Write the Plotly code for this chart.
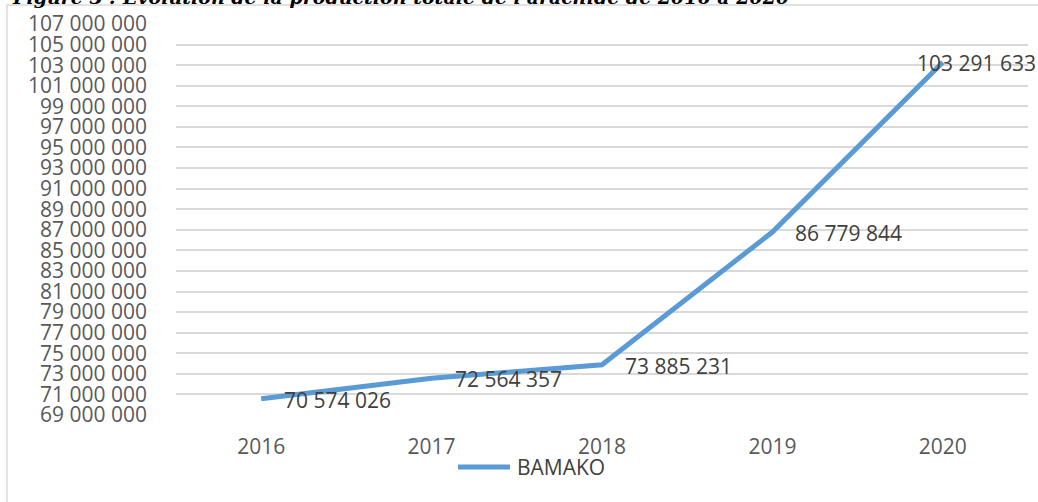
import plotly.graph_objects as go

years = ["2016", "2017", "2018", "2019", "2020"]
bamako = [70574026, 72564357, 73885231, 86779844, 103291633]
series_name = "BAMAKO"
title_text = "Figure 3 : Evolution de la production totale de l'arachide de 2016 à 2020"

y_ticks = list(range(69000000, 107000001, 2000000))


def fmt(v):
    return f"{v:,}".replace(",", " ")


FONT = "Open Sans"
LINE_COLOR = "#5B9BD5"
fig = go.Figure()
fig.add_trace(go.Scatter(
    x=years, y=bamako, mode="lines", name=series_name,
    line=dict(color=LINE_COLOR, width=5), hoverinfo="skip",
    showlegend=False,
))


# px -> paper helpers for the plot area (176..1028 x, 24..415 y)
def px_x(p):
    return (p - 176) / 852


def px_y(p):
    return (415 - p) / 391


annotations = []
for i, v in enumerate(bamako):
    last = i == len(years) - 1
    annotations.append(dict(
        x=i, y=v, xref="x", yref="y", text=fmt(v), showarrow=False,
        xanchor="left", yanchor="middle",
        xshift=-28 if last else 21, yshift=-1,
        font=dict(family=FONT, size=21, color="#404040"),
    ))

annotations.append(dict(
    x=-0.195, y=1.041, xref="paper", yref="paper", text="<b><i>" + title_text + "</i></b>",
    showarrow=False, xanchor="left", yanchor="bottom", yshift=-2,
    font=dict(family="DejaVu Serif", size=19, color="#000000"),
))

# legend entry (Excel-style long key)
annotations.append(dict(
    x=px_x(515), y=px_y(467), xref="paper", yref="paper", text=series_name,
    showarrow=False, xanchor="left", yanchor="middle",
    font=dict(family=FONT, size=21, color="#404040"),
))

fig.update_layout(
    width=1038, height=502,
    margin=dict(l=176, r=10, t=24, b=87, autoexpand=False),
    paper_bgcolor="white", plot_bgcolor="white",
    showlegend=False,
    xaxis=dict(
        type="category", range=[-0.5, 4.5], showgrid=False,
        showline=False, zeroline=False, ticks="",
        tickfont=dict(family=FONT, size=21, color="#595959"),
        ticklabelstandoff=17,
    ),
    yaxis=dict(
        range=[69000000, 107000000], tickvals=y_ticks,
        ticktext=[fmt(t) for t in y_ticks],
        showgrid=True, gridcolor="#D9D9D9", gridwidth=1.5,
        zeroline=False, showline=False, ticks="",
        tickfont=dict(family=FONT, size=21, color="#595959"),
        ticklabelstandoff=28,
    ),
    annotations=annotations,
    shapes=[
        dict(
            type="rect", xref="paper", yref="paper",
            x0=-0.1984, x1=1.2, y0=-0.5, y1=1.0486,
            line=dict(color="#D9D9D9", width=1.5), fillcolor="rgba(0,0,0,0)",
            layer="below",
        ),
        dict(
            type="line", xref="paper", yref="paper",
            x0=px_x(458), x1=px_x(510), y0=px_y(467), y1=px_y(467),
            line=dict(color=LINE_COLOR, width=5),
        ),
    ],
)

fig.write_html(
    "out.html",
    config={"displayModeBar": False},
    post_script="document.body.style.margin='0';",
)
